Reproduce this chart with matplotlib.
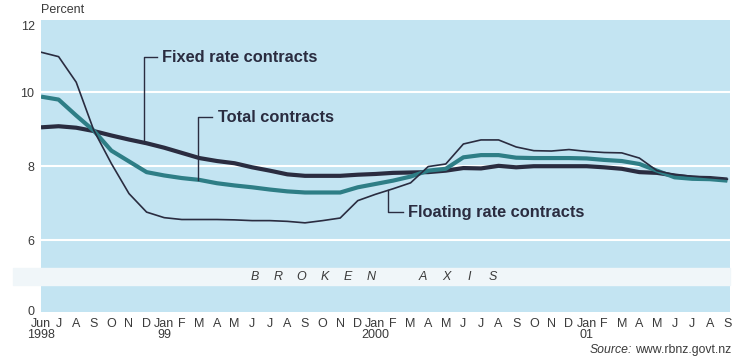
import numpy as np
import matplotlib.pyplot as plt

plt.rcParams['font.family'] = ['Liberation Sans', 'DejaVu Sans']

#   month labels, Jun 1998 .. Sep 2001
months = ['Jun', 'J', 'A', 'S', 'O', 'N', 'D',
          'Jan', 'F', 'M', 'A', 'M', 'J', 'J', 'A', 'S', 'O', 'N', 'D',
          'Jan', 'F', 'M', 'A', 'M', 'J', 'J', 'A', 'S', 'O', 'N', 'D',
          'Jan', 'F', 'M', 'A', 'M', 'J', 'J', 'A', 'S']
years = {0: '1998', 7: '99', 19: '2000', 31: '01'}

#   mortgage rates on new contracts, percent
fixed = [9.05, 9.08, 9.04, 8.95, 8.83, 8.72, 8.62, 8.50, 8.36, 8.22,
         8.14, 8.08, 7.97, 7.88, 7.78, 7.74, 7.74, 7.74, 7.77, 7.79,
         7.82, 7.83, 7.84, 7.88, 7.95, 7.94, 8.01, 7.97, 8.00, 8.00,
         8.00, 8.00, 7.97, 7.93, 7.84, 7.82, 7.75, 7.69, 7.68, 7.64]
total = [9.88, 9.80, 9.37, 8.96, 8.42, 8.13, 7.84, 7.75, 7.68, 7.63,
         7.54, 7.48, 7.43, 7.37, 7.32, 7.29, 7.29, 7.29, 7.43, 7.52,
         7.61, 7.72, 7.88, 7.93, 8.24, 8.30, 8.30, 8.23, 8.22, 8.22,
         8.22, 8.21, 8.17, 8.14, 8.06, 7.88, 7.70, 7.66, 7.65, 7.61]
floating = [11.08, 10.96, 10.27, 8.97, 8.07, 7.26, 6.76, 6.61, 6.56, 6.56,
            6.56, 6.55, 6.53, 6.53, 6.51, 6.47, 6.53, 6.60, 7.07, 7.24,
            7.39, 7.55, 7.99, 8.06, 8.60, 8.71, 8.71, 8.52, 8.42, 8.41,
            8.45, 8.40, 8.37, 8.36, 8.22, 7.88, 7.77, 7.73, 7.69, 7.65]

x = np.arange(len(months))

BLUE = '#c3e4f2'
DARK = '#2a2c40'
TEAL = '#2e7e86'
GREY = '#3a3a3a'
W, H = 740.0, 361.0

fig = plt.figure(figsize=(W / 100, H / 100), dpi=100)

def px(left, top, right, bottom):
    return [left / W, 1 - bottom / H, (right - left) / W, (bottom - top) / H]

#   broken axis band
fig.patches.append(plt.Rectangle((13 / W, 1 - 285 / H), 717 / W, 17 / H,
                                 transform=fig.transFigure, color='#f0f6f9', zorder=0))

ax = fig.add_axes(px(41, 20, 730, 268))
ax2 = fig.add_axes(px(41, 285, 730, 312))

for a in (ax, ax2):
    a.set_facecolor(BLUE)
    for s in a.spines.values():
        s.set_visible(False)
    a.set_xlim(0, 39.15)
    a.tick_params(length=0, labelsize=9, labelcolor=GREY, pad=5)

ax.set_ylim(5.25, 11.95)
ax.set_yticks([6, 8, 10])
ax.grid(axis='y', color='white', lw=1.5)
ax.set_axisbelow(True)
ax.set_xticks([])
ax.text(-0.009, 11.75, '12', transform=ax.get_yaxis_transform(),
        ha='right', va='center', fontsize=9, color=GREY)

ax.plot(x, fixed, color=DARK, lw=3.0, solid_capstyle='butt')
ax.plot(x, total, color=TEAL, lw=3.0, solid_capstyle='butt')
ax.plot(x, floating, color=DARK, lw=1.2)

#   labels with leader lines
kw = dict(fontsize=11.8, fontweight='bold', color=DARK, va='center')
xf = 5.85
ax.plot([xf, xf, 6.6], [np.interp(xf, x, fixed), 10.94, 10.94], color=DARK, lw=1)
ax.text(6.88, 10.94, 'Fixed rate contracts', **kw)
xt = 8.92
ax.plot([xt, xt, 9.72], [np.interp(xt, x, total), 9.32, 9.32], color=DARK, lw=1)
ax.text(10.06, 9.32, 'Total contracts', **kw)
xl = 19.72
ax.plot([xl, xl, 20.57], [np.interp(xl, x, floating), 6.75, 6.75], color=DARK, lw=1)
ax.text(20.85, 6.75, 'Floating rate contracts', **kw)

ax2.set_ylim(-0.05, 0.68)
ax2.set_yticks([0])
ax2.set_xticks(x)
labels = [m + ('\n' + years[i] if i in years else '') for i, m in enumerate(months)]
ax2.set_xticklabels(labels, fontsize=9)
for t in ax2.get_xticklabels():
    t.set_linespacing(0.9)
ax2.tick_params(axis='x', pad=4)

#   BROKEN AXIS text
for word, x0 in (('BROKEN', 255), ('AXIS', 423)):
    for k, ch in enumerate(word):
        fig.text((x0 + 23.2 * k) / W, 1 - 277 / H, ch, style='italic',
                 fontsize=9, color=GREY, ha='center', va='center')

fig.text(41 / W, 1 - 10 / H, 'Percent', fontsize=9, color=GREY, ha='left', va='center')

src = fig.text(731 / W, 1 - 350 / H, 'www.rbnz.govt.nz', fontsize=8.8,
               color=GREY, ha='right', va='center')
r = fig.canvas.get_renderer()
bb = src.get_window_extent(renderer=r)
fig.text((bb.x0 - 3) / W, 1 - 350 / H, 'Source:', fontsize=8.8, style='italic',
         color=GREY, ha='right', va='center')

fig.savefig('out.png', dpi=100)
